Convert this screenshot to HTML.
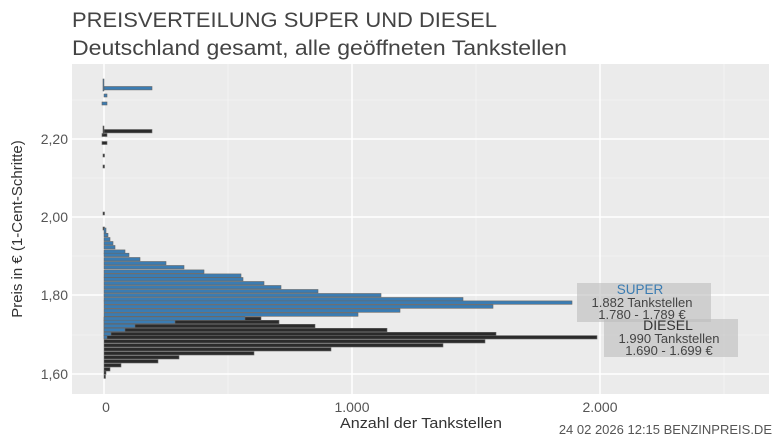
<!DOCTYPE html>
<html><head><meta charset="utf-8"><style>
body{margin:0;background:#fff}
svg{display:block;font-family:"Liberation Sans",sans-serif}
</style></head><body>
<svg width="780" height="438" xmlns="http://www.w3.org/2000/svg">
<text x="72" y="27" font-size="21" fill="#444" textLength="425" lengthAdjust="spacingAndGlyphs">PREISVERTEILUNG SUPER UND DIESEL</text>
<text x="72" y="55" font-size="21" fill="#444" textLength="495" lengthAdjust="spacingAndGlyphs">Deutschland gesamt, alle geöffneten Tankstellen</text>
<rect x="72" y="64" width="697" height="330" fill="#ebebeb"/>
<g stroke="#f5f5f5" stroke-width="0.8">
<line x1="228" y1="64" x2="228" y2="394"/><line x1="476" y1="64" x2="476" y2="394"/><line x1="724" y1="64" x2="724" y2="394"/>
<line x1="72" y1="100" x2="769" y2="100"/><line x1="72" y1="178" x2="769" y2="178"/><line x1="72" y1="256" x2="769" y2="256"/><line x1="72" y1="335" x2="769" y2="335"/>
</g>
<g stroke="#fff" stroke-width="1.5">
<line x1="104" y1="64" x2="104" y2="394"/><line x1="352" y1="64" x2="352" y2="394"/><line x1="600" y1="64" x2="600" y2="394"/>
<line x1="72" y1="139" x2="769" y2="139"/><line x1="72" y1="217" x2="769" y2="217"/><line x1="72" y1="295" x2="769" y2="295"/><line x1="72" y1="374" x2="769" y2="374"/>
</g>
<g fill="#2b2b2b" stroke="#666" stroke-width="0.6">
<rect x="104" y="317" width="157" height="3.4"/><rect x="104" y="320.3" width="175" height="3.4"/><rect x="104" y="324.3" width="211" height="3.4"/><rect x="104" y="328.3" width="283" height="3.4"/><rect x="104" y="332.3" width="392" height="3.4"/><rect x="104" y="335.6" width="493" height="3.4"/><rect x="104" y="339.6" width="381" height="3.4"/><rect x="104" y="343.6" width="339" height="3.4"/><rect x="104" y="347.6" width="227" height="3.4"/><rect x="104" y="351.6" width="150" height="3.4"/><rect x="104" y="355.6" width="75" height="3.4"/><rect x="104" y="359.6" width="54" height="3.4"/><rect x="104" y="363.6" width="17" height="3.4"/><rect x="104" y="367.6" width="6" height="3.4"/><rect x="104" y="371" width="2" height="3.4"/><rect x="104" y="375" width="1.5" height="3.4"/>
<rect x="104" y="129.5" width="48" height="3.4"/><rect x="102" y="133.5" width="5" height="3"/><rect x="102" y="141.5" width="5" height="3"/><rect x="103" y="154" width="1.5" height="3"/><rect x="103" y="165" width="1.5" height="3"/><rect x="103" y="212" width="1.5" height="3"/><rect x="103" y="227" width="1.5" height="3"/><rect x="103" y="126" width="1" height="8"/>
</g>
<g fill="#3b7cb2" stroke="#666" stroke-width="0.6">
<rect x="104" y="228" width="2" height="5"/><rect x="104" y="233.3" width="4" height="3.4"/><rect x="104" y="237.5" width="6" height="3.4"/><rect x="104" y="241.5" width="9" height="3.4"/><rect x="104" y="245.5" width="11" height="3.4"/><rect x="104" y="249.9" width="21" height="3.4"/><rect x="104" y="253.2" width="25" height="3.4"/><rect x="104" y="257.5" width="36" height="3.4"/><rect x="104" y="261.5" width="62" height="3.4"/><rect x="104" y="265.5" width="80" height="3.4"/><rect x="104" y="269.9" width="100" height="3.4"/><rect x="104" y="273.9" width="137" height="3.4"/><rect x="104" y="277.5" width="139" height="3.4"/><rect x="104" y="281.5" width="160" height="3.4"/><rect x="104" y="285.5" width="177" height="3.4"/><rect x="104" y="289.5" width="214" height="3.4"/><rect x="104" y="293.5" width="277" height="3.4"/><rect x="104" y="297.5" width="359" height="3.4"/><rect x="104" y="300.9" width="468" height="3.4"/><rect x="104" y="304.9" width="389" height="3.4"/><rect x="104" y="308.9" width="296" height="3.4"/><rect x="104" y="312.9" width="254" height="3.4"/><rect x="104" y="316.9" width="141" height="3.4"/><rect x="104" y="320.2" width="71" height="3.4"/><rect x="104" y="324.2" width="31" height="3.4"/><rect x="104" y="328.2" width="21" height="3.4"/><rect x="104" y="332.2" width="7" height="3.4"/><rect x="104" y="335.5" width="3" height="3.4"/>
<rect x="104" y="86.5" width="48" height="3.4"/><rect x="104" y="94" width="3" height="3"/><rect x="102" y="102" width="5" height="3"/><rect x="103" y="79" width="1" height="12"/>
</g>
<rect x="577" y="283" width="134" height="39" fill="#bdbdbd" fill-opacity="0.6"/>
<rect x="604" y="319" width="134" height="38" fill="#bdbdbd" fill-opacity="0.6"/>
<g font-size="13" text-anchor="middle">
<text x="640" y="294" fill="#3b7cb2" font-size="13.5">SUPER</text>
<text x="642" y="307" fill="#444">1.882 Tankstellen</text>
<text x="642" y="319" fill="#444">1.780 - 1.789 €</text>
<text x="668" y="330" fill="#333" font-size="14">DIESEL</text>
<text x="669" y="343" fill="#444">1.990 Tankstellen</text>
<text x="669" y="355" fill="#444">1.690 - 1.699 €</text>
</g>
<g font-size="14" fill="#555" text-anchor="end">
<text x="68" y="144">2,20</text><text x="68" y="222">2,00</text><text x="68" y="300">1,80</text><text x="68" y="379">1,60</text>
</g>
<g font-size="14" fill="#555" text-anchor="middle">
<text x="106" y="412">0</text><text x="352" y="412">1.000</text><text x="600" y="412">2.000</text>
</g>
<text x="421" y="428" font-size="15" fill="#333" text-anchor="middle" textLength="162" lengthAdjust="spacingAndGlyphs">Anzahl der Tankstellen</text>
<text x="772" y="434" font-size="13" fill="#555" text-anchor="end">24 02 2026 12:15 BENZINPREIS.DE</text>
<text transform="translate(22,229) rotate(-90)" font-size="15" fill="#333" text-anchor="middle">Preis in € (1-Cent-Schritte)</text>
</svg>
</body></html>
